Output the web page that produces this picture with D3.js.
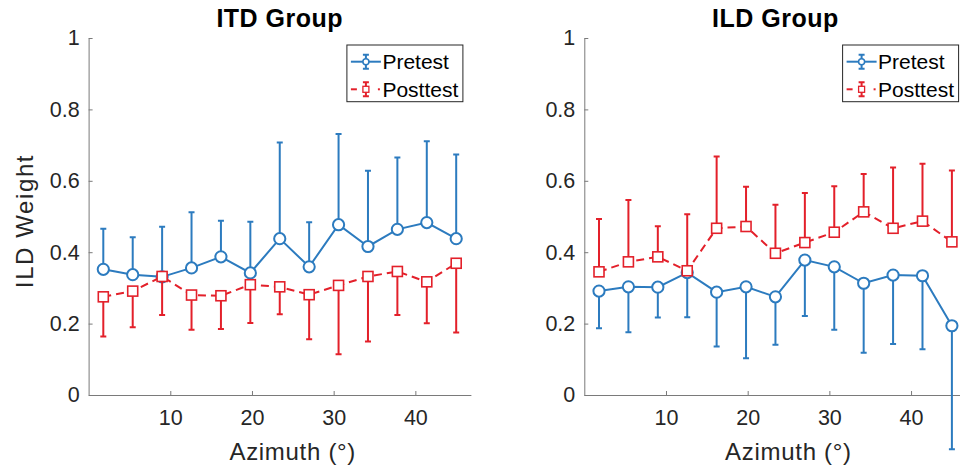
<!DOCTYPE html>
<html>
<head>
<meta charset="utf-8">
<script src="https://cdn.jsdelivr.net/npm/d3@7"></script>
<style>
  body { margin: 0; background: #fff; }
  svg { display: block; font-family: "Liberation Sans", Arial, sans-serif; }
</style>
</head>
<body>
<svg width="960" height="469"></svg>
<script>
// azimuth bin centres (deg)
let azimuth = [1.8, 5.4, 9, 12.6, 16.2, 19.8, 23.4, 27, 30.6, 34.2, 37.8, 41.4, 45];
let yTicks = [0, 0.2, 0.4, 0.6, 0.8, 1];
let xTicks = [10, 20, 30, 40];

// ITD group
let itdPre = [0.352, 0.337, 0.331, 0.356, 0.387, 0.342, 0.438, 0.359, 0.477, 0.416, 0.464, 0.483, 0.438];
let itdPreUpper = [0.466, 0.442, 0.471, 0.512, 0.488, 0.485, 0.707, 0.484, 0.731, 0.628, 0.665, 0.711, 0.674];
let itdPost = [0.275, 0.291, 0.332, 0.280, 0.278, 0.309, 0.303, 0.281, 0.307, 0.332, 0.346, 0.317, 0.369];
let itdPostLower = [0.164, 0.190, 0.224, 0.183, 0.185, 0.202, 0.226, 0.156, 0.114, 0.150, 0.224, 0.201, 0.175];

// ILD group
let ildPre = [0.291, 0.303, 0.302, 0.343, 0.288, 0.303, 0.275, 0.378, 0.359, 0.313, 0.336, 0.334, 0.194];
let ildPreLower = [0.187, 0.176, 0.217, 0.218, 0.136, 0.103, 0.141, 0.221, 0.183, 0.118, 0.143, 0.128, -0.152];
let ildPost = [0.345, 0.373, 0.387, 0.348, 0.467, 0.472, 0.397, 0.427, 0.456, 0.513, 0.467, 0.487, 0.429];
let ildPostUpper = [0.493, 0.546, 0.473, 0.506, 0.668, 0.583, 0.533, 0.566, 0.585, 0.619, 0.637, 0.648, 0.629];

let blue = "#2c7bbf",
  red = "#e3202a",
  textColor = "#262626",
  axisColor = "#7a7a7a";

let svg = d3.select("svg");

let y = d3.scaleLinear().domain([0, 1]).range([395, 38]);

function panel(left, title, pre, preEnd, post, postEnd, yLabel) {
  let x = d3.scaleLinear().domain([0, 46.8]).range([left, left + 382.3]);
  let g = svg.append("g");
  let mid = (x.range()[0] + x.range()[1]) / 2;

  // axes
  let ax = g.append("g")
    .attr("transform", "translate(" + left + ",0)")
    .call(d3.axisLeft(y).tickValues(yTicks).tickFormat(d => String(d))
      .tickSizeInner(-4).tickSizeOuter(0).tickPadding(9));
  let bx = g.append("g")
    .attr("transform", "translate(0," + y(0) + ")")
    .call(d3.axisBottom(x).tickValues(xTicks).tickSizeInner(-4).tickSizeOuter(0).tickPadding(15));
  [ax, bx].forEach(a => {
    a.select(".domain").attr("stroke", axisColor);
    a.selectAll(".tick line").attr("stroke", axisColor);
    a.selectAll(".tick text").attr("fill", textColor).style("font-size", "21.5px")
      .style("font-family", "'Liberation Sans', Arial, sans-serif");
  });

  g.append("text")
    .attr("x", mid)
    .attr("y", 27)
    .attr("text-anchor", "middle")
    .attr("fill", "#000")
    .style("font-size", "25px")
    .style("font-weight", "bold")
    .style("letter-spacing", "0.5px")
    .text(title);

  g.append("text")
    .attr("x", mid + 13)
    .attr("y", 460)
    .attr("text-anchor", "middle")
    .attr("fill", textColor)
    .style("font-size", "24px")
    .style("letter-spacing", "0.7px")
    .text("Azimuth (°)");

  if (yLabel) {
    g.append("text")
      .attr("transform", "translate(33,221) rotate(-90)")
      .attr("text-anchor", "middle")
      .attr("fill", textColor)
      .style("font-size", "24px")
      .style("letter-spacing", "1.6px")
      .text(yLabel);
  }

  function series(vals, ends, color, dashed, shape) {
    let s = g.append("g");
    let line = d3.line().x((d, i) => x(azimuth[i])).y(d => y(d));
    s.append("path")
      .datum(vals)
      .attr("d", line)
      .attr("fill", "none")
      .attr("stroke", color)
      .attr("stroke-width", 2)
      .attr("stroke-dasharray", dashed ? "8,5" : null);

    s.selectAll(".bar")
      .data(vals)
      .enter().append("path")
      .attr("class", "bar")
      .attr("d", (d, i) => {
        let cx = x(azimuth[i]), y1 = y(d), y2 = y(ends[i]);
        return "M" + cx + "," + y1 + "V" + y2 + "M" + (cx - 3) + "," + y2 + "H" + (cx + 3);
      })
      .attr("fill", "none")
      .attr("stroke", color)
      .attr("stroke-width", 2);

    if (shape === "circle") {
      s.selectAll("circle")
        .data(vals)
        .enter().append("circle")
        .attr("cx", (d, i) => x(azimuth[i]))
        .attr("cy", d => y(d))
        .attr("r", 5.6)
        .attr("fill", "#fff")
        .attr("stroke", color)
        .attr("stroke-width", 2);
    } else {
      s.selectAll("rect")
        .data(vals)
        .enter().append("rect")
        .attr("x", (d, i) => x(azimuth[i]) - 5)
        .attr("y", d => y(d) - 5)
        .attr("width", 10)
        .attr("height", 10)
        .attr("fill", "#fff")
        .attr("stroke", color)
        .attr("stroke-width", 1.6);
    }
  }

  series(pre, preEnd, blue, false, "circle");
  series(post, postEnd, red, true, "square");

  // legend
  let lx = x.range()[1] - 124, ly = 45;
  let leg = g.append("g").attr("transform", "translate(" + lx + "," + ly + ")");
  leg.append("rect")
    .attr("width", 116).attr("height", 56.7)
    .attr("fill", "#fff").attr("stroke", textColor).attr("stroke-width", 1);
  let rows = [
    { name: "Pretest", color: blue, dashed: false, shape: "circle", y: 16.7 },
    { name: "Posttest", color: red, dashed: true, shape: "square", y: 44.3 }
  ];
  rows.forEach(r => {
    let cx = 19;
    if (r.dashed) {
      leg.append("path").attr("d", "M4," + r.y + "H10").attr("stroke", r.color).attr("stroke-width", 2);
      leg.append("path").attr("d", "M31," + r.y + "H33").attr("stroke", r.color).attr("stroke-width", 2);
    } else {
      leg.append("path").attr("d", "M4," + r.y + "H34").attr("stroke", r.color).attr("stroke-width", 2);
    }
    leg.append("path")
      .attr("d", "M" + cx + "," + (r.y - 7) + "V" + (r.y + 7) + "M" + (cx - 3) + "," + (r.y - 7) + "H" + (cx + 3) +
        "M" + (cx - 3) + "," + (r.y + 7) + "H" + (cx + 3))
      .attr("stroke", r.color).attr("stroke-width", 2).attr("fill", "none");
    if (r.shape === "circle") {
      leg.append("circle").attr("cx", cx).attr("cy", r.y).attr("r", 3)
        .attr("fill", "#fff").attr("stroke", r.color).attr("stroke-width", 1.5);
    } else {
      leg.append("rect").attr("x", cx - 3).attr("y", r.y - 3).attr("width", 6).attr("height", 6)
        .attr("fill", "#fff").attr("stroke", r.color).attr("stroke-width", 1.3);
    }
    leg.append("text")
      .attr("x", 35.5).attr("y", r.y).attr("dy", "0.36em")
      .attr("fill", "#000")
      .style("font-size", "21px")
      .text(r.name);
  });
}

panel(88.6, "ITD Group", itdPre, itdPreUpper, itdPost, itdPostLower, "ILD Weight");
panel(584.3, "ILD Group", ildPre, ildPreLower, ildPost, ildPostUpper, null);
</script>
</body>
</html>
